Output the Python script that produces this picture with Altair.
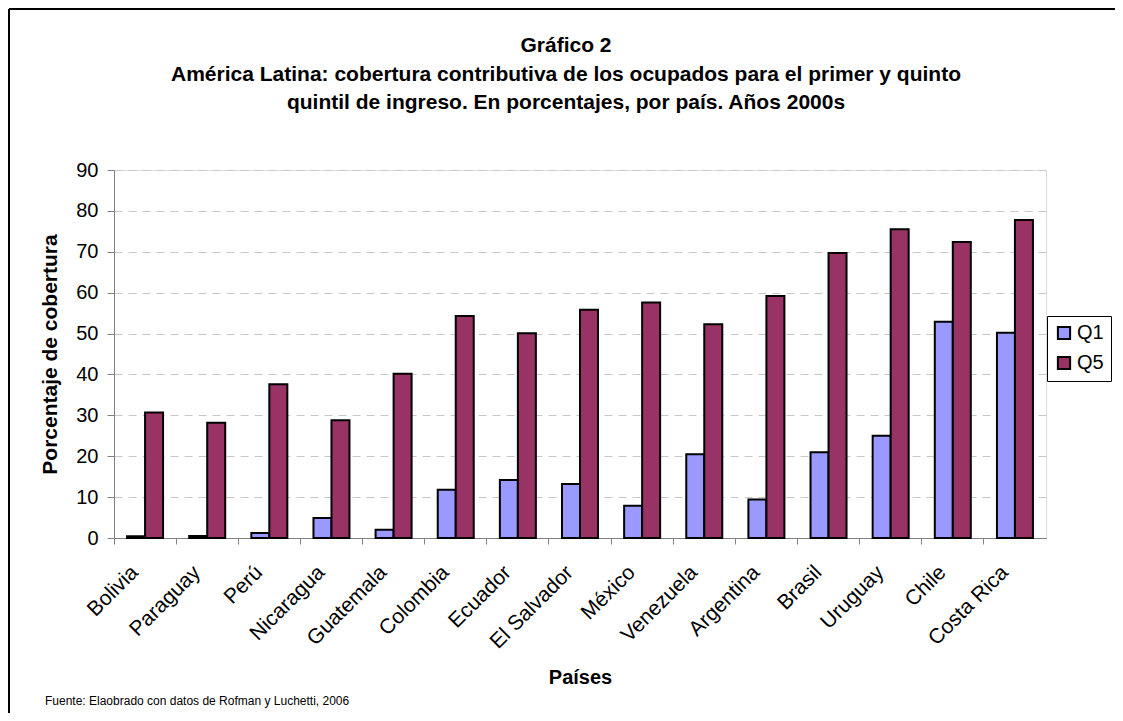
import altair as alt
import pandas as pd

countries = ["Bolivia", "Paraguay", "Perú", "Nicaragua", "Guatemala", "Colombia", "Ecuador",
             "El Salvador", "México", "Venezuela", "Argentina", "Brasil", "Uruguay", "Chile", "Costa Rica"]
q1 = [0.4, 0.5, 1.2, 4.9, 2.0, 11.8, 14.2, 13.2, 7.9, 20.5, 9.4, 21.0, 25.0, 52.9, 50.2]
q5 = [30.7, 28.2, 37.6, 28.8, 40.2, 54.3, 50.1, 55.8, 57.6, 52.3, 59.2, 69.7, 75.5, 72.4, 77.8]
series = ["Q1", "Q5"]
colors = ["#9999FF", "#993366"]
y_ticks = [0, 10, 20, 30, 40, 50, 60, 70, 80, 90]
title_lines = ["Gráfico 2",
               "América Latina: cobertura contributiva de los ocupados para el primer y quinto",
               "quintil de ingreso. En porcentajes, por país. Años 2000s"]
source_text = "Fuente: Elaobrado con datos de Rofman y Luchetti, 2006"

rows = []
for c, a, b in zip(countries, q1, q5):
    rows.append({"País": c, "Serie": "Q1", "Valor": a})
    rows.append({"País": c, "Serie": "Q5", "Valor": b})
df = pd.DataFrame(rows)

W, H = 932, 368
PL, PT, PR, PB = 106, 162, 69, 175
FONT = "Liberation Sans"

bars = alt.Chart(df).mark_bar(stroke="black", strokeWidth=2).encode(
    x=alt.X("País:N", sort=countries,
            scale=alt.Scale(paddingInner=0, paddingOuter=0),
            axis=alt.Axis(title="Países", bandPosition=0, labelOffset=-10,
                          labelAngle=-45, labelAlign="right", labelBaseline="middle",
                          labelFontSize=21, labelFont=FONT, labelColor="black", labelPadding=25,
                          tickSize=6, tickColor="#808080", domainColor="#808080",
                          titleFontSize=20, titleFont=FONT, titleFontWeight="bold",
                          titleX=W / 2, titleY=139, titleBaseline="middle", grid=False)),
    xOffset=alt.XOffset("Serie:N", sort=series,
                        scale=alt.Scale(paddingInner=0, paddingOuter=0.726)),
    y=alt.Y("Valor:Q", scale=alt.Scale(domain=[0, 90], nice=False),
            axis=alt.Axis(title="Porcentaje de cobertura", values=y_ticks,
                          labelFontSize=20, labelFont=FONT, labelColor="black", labelPadding=9,
                          tickSize=7, tickColor="#808080", domainColor="#808080",
                          gridColor="#c8c8c8", gridDash=[8, 6], gridWidth=1.2,
                          titleFontSize=21, titleFont=FONT, titleFontWeight="bold",
                          titleX=-64, titleY=H / 2, titleBaseline="middle")),
    color=alt.Color("Serie:N", scale=alt.Scale(domain=series, range=colors),
                    legend=alt.Legend(title=None, orient="none", legendX=933, legendY=146,
                                      strokeColor="black", fillColor="white", padding=7,
                                      symbolType="square", symbolSize=150,
                                      symbolStrokeColor="black", symbolStrokeWidth=2,
                                      labelFontSize=20, labelFont=FONT, labelColor="black",
                                      rowPadding=8, labelOffset=3)),
)

frame = pd.DataFrame({"k": [0]})
top_border = alt.Chart(frame).mark_rule(color="black", strokeWidth=2).encode(
    x=alt.value(-PL + 1), x2=alt.value(W + PR), y=alt.value(-PT + 1))
left_border = alt.Chart(frame).mark_rule(color="black", strokeWidth=2).encode(
    x=alt.value(-PL + 1), y=alt.value(-PT + 1), y2=alt.value(H + PB))

title = alt.Chart(frame).mark_text(
    text=title_lines, lineHeight=28.5, align="center", baseline="top",
    fontSize=21, font=FONT, fontWeight="bold", color="black").encode(
    x=alt.value(452), y=alt.value(-135))

src = alt.Chart(pd.DataFrame({"t": [source_text]})).mark_text(
    align="left", baseline="middle", fontSize=12, font=FONT, color="black").encode(
    text="t:N", x=alt.value(-69), y=alt.value(H + 163))

chart = alt.layer(top_border, left_border, title, bars, src).properties(
    width=W, height=H,
    autosize=alt.AutoSizeParams(type="none"),
    padding={"left": PL, "top": PT, "right": PR, "bottom": PB},
).configure_view(stroke=None).configure(background="white")

chart.save("out.html", embed_options={"renderer": "svg", "actions": False})
